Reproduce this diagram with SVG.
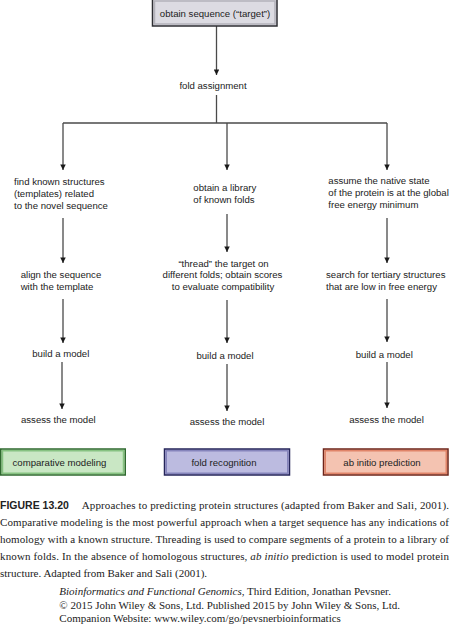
<svg xmlns="http://www.w3.org/2000/svg" width="452" height="624" viewBox="0 0 452 624">
<style>
.t{font-family:"Liberation Sans",Arial,sans-serif;font-size:9.6px;fill:#222}
.c{text-anchor:middle}
.ln{stroke:#4a4a4a;stroke-width:1.3;fill:none}
.ar{stroke:#4a4a4a;stroke-width:1.3;fill:none;marker-end:url(#ah)}
.cap{font-family:"Liberation Serif","Times New Roman",serif;font-size:11px;fill:#222}
.fig{font-family:"Liberation Sans",Arial,sans-serif;font-size:10.5px;font-weight:bold;fill:#222}
</style>
<defs>
<marker id="ah" viewBox="0 0 10 10" refX="10" refY="5" markerWidth="8.5" markerHeight="5.5" markerUnits="userSpaceOnUse" orient="auto">
<path d="M0,0 L10,5 L0,10 z" fill="#1a1a1a"/>
</marker>
</defs>
<rect width="452" height="624" fill="#fff"/>

<g id="connectors">
<line class="ar" x1="216.5" y1="26" x2="216.5" y2="75"/>
<polyline class="ln" points="216.5,95 216.5,123"/>
<line class="ln" x1="63" y1="123" x2="387" y2="123"/>
<line class="ar" x1="63" y1="123" x2="63" y2="170"/>
<line class="ar" x1="227" y1="123" x2="227" y2="170"/>
<line class="ar" x1="387" y1="123" x2="387" y2="170"/>
<line class="ar" x1="63" y1="218" x2="63" y2="263"/>
<line class="ar" x1="227" y1="214" x2="227" y2="252"/>
<line class="ar" x1="387" y1="218" x2="387" y2="263"/>
<line class="ar" x1="63" y1="299" x2="63" y2="343"/>
<line class="ar" x1="227" y1="300" x2="227" y2="343"/>
<line class="ar" x1="387" y1="299" x2="387" y2="342"/>
<line class="ar" x1="62" y1="362" x2="62" y2="409"/>
<line class="ar" x1="227" y1="364" x2="227" y2="411"/>
<line class="ar" x1="387" y1="362" x2="387" y2="408"/>
</g>

<g id="target">
<rect x="152.5" y="-1" width="124.5" height="27" fill="#dcdbe2" stroke="#2e2e33" stroke-width="1.5"/>
<rect x="154.5" y="1" width="120.5" height="23" fill="none" stroke="#b3b2ba" stroke-width="1.5"/>
<text class="t c" x="215" y="17">obtain sequence (“target”)</text>
</g>
<g id="fold-assignment"><text class="t c" x="213" y="88.5">fold assignment</text></g>

<g id="find-templates">
<text class="t" x="14" y="184.5">find known structures</text>
<text class="t" x="14" y="196.5">(templates) related</text>
<text class="t" x="14" y="209">to the novel sequence</text>
</g>
<g id="library">
<text class="t" x="193.3" y="190.5">obtain a library</text>
<text class="t" x="193.3" y="203">of known folds</text>
</g>
<g id="native-state">
<text class="t" x="328.3" y="183.5">assume the native state</text>
<text class="t" x="328.3" y="196">of the protein is at the global</text>
<text class="t" x="328.3" y="208">free energy minimum</text>
</g>

<g id="align">
<text class="t" x="20.7" y="277.5">align the sequence</text>
<text class="t" x="20.7" y="290">with the template</text>
</g>
<g id="thread">
<text class="t c" x="223.5" y="266.5">“thread” the target on</text>
<text class="t c" x="222.5" y="278">different folds; obtain scores</text>
<text class="t c" x="223" y="289.5">to evaluate compatibility</text>
</g>
<g id="search">
<text class="t" x="326" y="277.5">search for tertiary structures</text>
<text class="t" x="326" y="290">that are low in free energy</text>
</g>

<g id="build-1"><text class="t c" x="60.8" y="357">build a model</text></g>
<g id="build-2"><text class="t c" x="225" y="358.5">build a model</text></g>
<g id="build-3"><text class="t c" x="384.3" y="357.5">build a model</text></g>

<g id="assess-1"><text class="t c" x="58.3" y="423">assess the model</text></g>
<g id="assess-2"><text class="t c" x="227" y="424.5">assess the model</text></g>
<g id="assess-3"><text class="t c" x="386.5" y="423">assess the model</text></g>

<g id="comparative-modeling">
<rect x="0.75" y="449" width="124.5" height="26" fill="#c9e7c4" stroke="#2f6a2f" stroke-width="1.5"/>
<rect x="2.5" y="450.75" width="121" height="22.5" fill="none" stroke="#86c281" stroke-width="1.5"/>
<text class="t c" x="59.5" y="465.5">comparative modeling</text>
</g>
<g id="fold-recognition">
<rect x="164.5" y="449" width="125" height="26" fill="#bcbbe0" stroke="#25255a" stroke-width="1.5"/>
<rect x="166.25" y="450.75" width="121.5" height="22.5" fill="none" stroke="#8584bb" stroke-width="1.5"/>
<text class="t c" x="224" y="465.5">fold recognition</text>
</g>
<g id="ab-initio">
<rect x="323.5" y="449" width="124.5" height="26" fill="#f4c3b1" stroke="#6e2419" stroke-width="1.5"/>
<rect x="325.25" y="450.75" width="121" height="22.5" fill="none" stroke="#e08469" stroke-width="1.5"/>
<text class="t c" x="382" y="465.5">ab initio prediction</text>
</g>

<g id="caption">
<text class="fig" x="0" y="509">FIGURE 13.20</text>
<text class="cap" x="81.7" y="509" textLength="367.3" lengthAdjust="spacing">Approaches to predicting protein structures (adapted from Baker and Sali, 2001).</text>
<text class="cap" x="0" y="526" textLength="449" lengthAdjust="spacing">Comparative modeling is the most powerful approach when a target sequence has any indications of</text>
<text class="cap" x="0" y="543" textLength="449" lengthAdjust="spacing">homology with a known structure. Threading is used to compare segments of a protein to a library of</text>
<text class="cap" x="0" y="560" textLength="449" lengthAdjust="spacing">known folds. In the absence of homologous structures, <tspan font-style="italic">ab initio</tspan> prediction is used to model protein</text>
<text class="cap" x="0" y="577">structure. Adapted from Baker and Sali (2001).</text>
<text class="cap" x="59.3" y="595"><tspan font-style="italic">Bioinformatics and Functional Genomics</tspan>, Third Edition, Jonathan Pevsner.</text>
<text class="cap" x="59.3" y="608.5">© 2015 John Wiley &amp; Sons, Ltd. Published 2015 by John Wiley &amp; Sons, Ltd.</text>
<text class="cap" x="59.3" y="622">Companion Website: www.wiley.com/go/pevsnerbioinformatics</text>
</g>
</svg>
